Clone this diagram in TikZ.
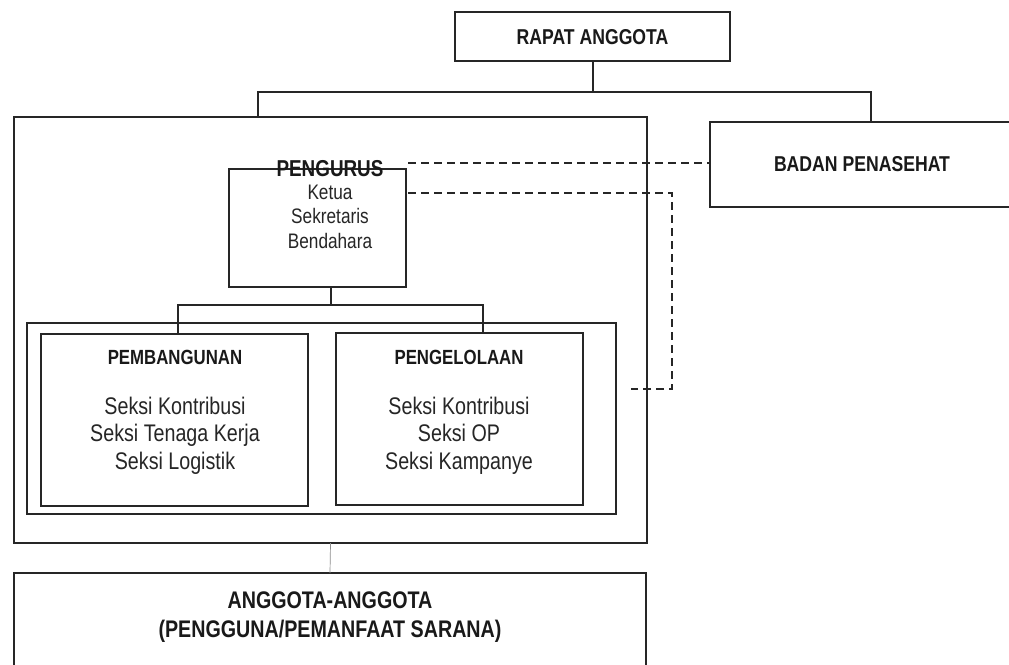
\documentclass[tikz,border=0pt]{standalone}
\usepackage{fontspec}
\setmainfont{Liberation Sans}[FakeStretch=0.82]
\usetikzlibrary{calc}
\begin{document}
\begin{tikzpicture}[x=1pt,y=-1pt,
  line width=1.5pt,
  frame/.style={draw=black!85, line width=1.6pt, rectangle, inner sep=0pt, outer sep=0pt},
  conn/.style={draw=black!85, line width=1.6pt},
  dashconn/.style={draw=black!85, line width=1.6pt, dash pattern=on 8pt off 5pt},
  thinconn/.style={draw=black!45, line width=0.7pt},
  head/.style={font=\bfseries\fontsize{21.5}{24.5}\selectfont, inner sep=0pt, text=black!90},
  headL/.style={font=\bfseries\fontsize{20.5}{24}\selectfont, inner sep=0pt, text=black!90},
  bodyS/.style={font=\fontsize{21}{24.5}\selectfont, inner sep=0pt, align=center, text=black!85},
  bodyL/.style={font=\fontsize{24}{27.5}\selectfont, inner sep=0pt, align=center, text=black!85},
  bigHead/.style={font=\bfseries\fontsize{24}{29}\selectfont, inner sep=0pt, align=center, text=black!90}
]
\clip (0,0) rectangle (1009,664);
\fill[white] (0,0) rectangle (1009,664);

% boxes
\node[frame, minimum width=275pt, minimum height=49pt] (rapat) at (592.5,36.5) {};
\node[frame, minimum width=305pt, minimum height=85pt] (badan) at (862.5,164.5) {};
\node[frame, minimum width=633pt, minimum height=426pt] (outer) at (330.5,330) {};
\node[frame, minimum width=177pt, minimum height=118pt] (pengurus) at (317.5,228) {};
\node[frame, minimum width=589pt, minimum height=191pt] (inner) at (321.5,418.5) {};
\node[frame, minimum width=267pt, minimum height=172pt] (pemb) at (174.5,420) {};
\node[frame, minimum width=247pt, minimum height=172pt] (pengel) at (459.5,419) {};
\node[frame, minimum width=632pt, minimum height=110pt] (anggota) at (330,628) {};

% texts
\node[head] (rapatT) at (592.5,37) {RAPAT ANGGOTA};
\node[head] (badanT) at (862,164) {BADAN PENASEHAT};
\node[font=\bfseries\fontsize{23}{26}\selectfont, inner sep=0pt, text=black!90] (pengT) at (330,169) {PENGURUS};
\node[bodyS] (pengL) at (330,216.5) {Ketua\\Sekretaris\\Bendahara};
\node[headL] (pembT) at (175,357) {PEMBANGUNAN};
\node[bodyL] (pembL) at (175,435.5) {Seksi Kontribusi\\Seksi Tenaga Kerja\\Seksi Logistik};
\node[headL] (pengelT) at (459,357) {PENGELOLAAN};
\node[bodyL] (pengelL) at (459,435.5) {Seksi Kontribusi\\Seksi OP\\Seksi Kampanye};
\node[bigHead] (anggotaT) at (330,617.5) {ANGGOTA-ANGGOTA\\(PENGGUNA/PEMANFAAT SARANA)};

% solid connectors
\coordinate (bus) at (593,92);
\coordinate (busL) at (258,92);
\coordinate (busR) at (871,92);
\draw[conn] (rapat.south -| bus) -- (bus);
\draw[conn] (outer.north -| busL) -- (busL) -- (busR) -- (badan.north -| busR);

\coordinate (br) at (331,305);
\coordinate (brL) at (178,305);
\coordinate (brR) at (483,305);
\draw[conn] (pengurus.south -| br) -- (br);
\draw[conn] (pemb.north -| brL) -- (brL) -- (brR) -- (pengel.north -| brR);

% dashed connectors
\coordinate (d1) at (408,163);
\draw[dashconn] (d1) -- (badan.west |- d1);
\coordinate (d2) at (408,193);
\coordinate (d3) at (672,389);
\coordinate (d4) at (631,389);
\draw[dashconn] (d2) -| (d3) -- (d4);

% thin link
\draw[thinconn] (outer.south) -- (anggota.north);
\end{tikzpicture}
\end{document}
